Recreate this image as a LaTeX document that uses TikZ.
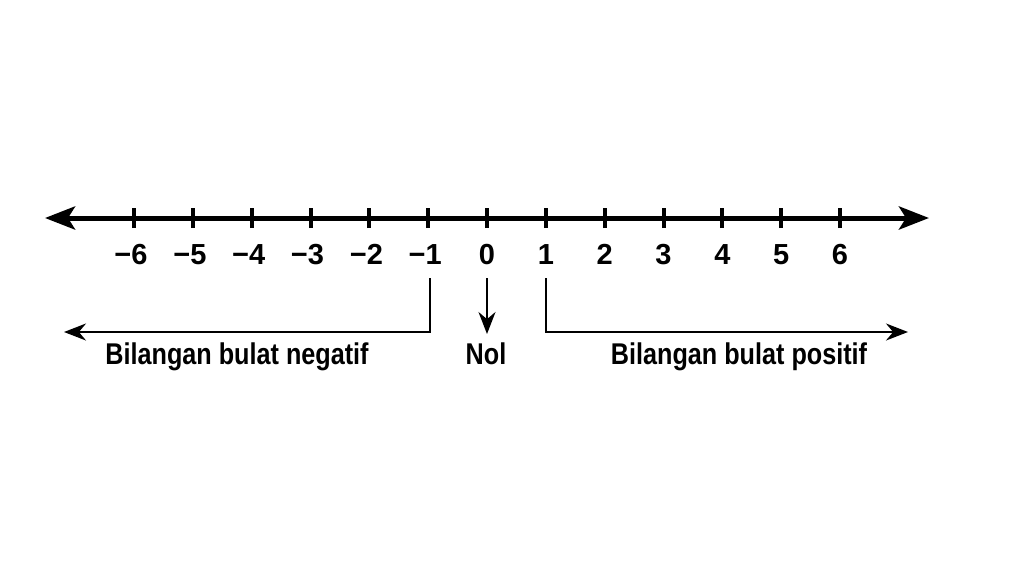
\documentclass[tikz,border=0pt]{standalone}
\usepackage{fontspec}
\setmainfont{Liberation Sans}
\newfontfamily\narrowfont{Liberation Sans}[FakeStretch=0.84]
\usetikzlibrary{arrows.meta}
\begin{document}
\begin{tikzpicture}[x=1pt, y=-1pt, >={Stealth[length=22pt,width=17pt]},
    numlbl/.style={font=\fontsize{29}{30}\selectfont\bfseries, inner sep=0pt, anchor=base},
    txtlbl/.style={font=\fontsize{30}{32}\selectfont\narrowfont\bfseries, inner sep=0pt, anchor=base}]
    \useasboundingbox[fill=white] (0,0) rectangle (1024,576);
    % number line
    \coordinate (left) at (45,218);
    \coordinate (right) at (929,218);
    \draw[line width=5pt, {Stealth[length=30pt,width=23pt,inset=7pt]}-{Stealth[length=30pt,width=23pt,inset=7pt]}] (left) -- (right);
    \foreach \i in {-6,...,6} {
        \coordinate (t\i) at (487+58.83*\i,218);
        \draw[line width=4pt] ([yshift=-10pt]t\i) -- ([yshift=10pt]t\i);
    }
    \foreach \i in {-6,...,-1}
        \node[numlbl] (l\i) at (484+58.83*\i,264) {\textminus\the\numexpr-\i\relax};
    \foreach \i in {0,...,6}
        \node[numlbl] (l\i) at (487+58.83*\i,264) {\i};
    % brackets
    \coordinate (na) at (430,278);
    \coordinate (nb) at (430,332);
    \coordinate (ne) at (64,332);
    \coordinate (pa) at (546,278);
    \coordinate (pb) at (546,332);
    \coordinate (pe) at (908,332);
    \coordinate (za) at (487,278);
    \coordinate (zb) at (487,334);
    \draw[line width=2pt, ->] (na) -- (nb) -- (ne);
    \draw[line width=2pt, ->] (pa) -- (pb) -- (pe);
    \draw[line width=2pt, ->] (za) -- (zb);
    \node[txtlbl] (neg) at (237,364) {Bilangan bulat negatif};
    \node[txtlbl] (nol) at (486,364) {Nol};
    \node[txtlbl] (pos) at (739,364) {Bilangan bulat positif};
\end{tikzpicture}
\end{document}
